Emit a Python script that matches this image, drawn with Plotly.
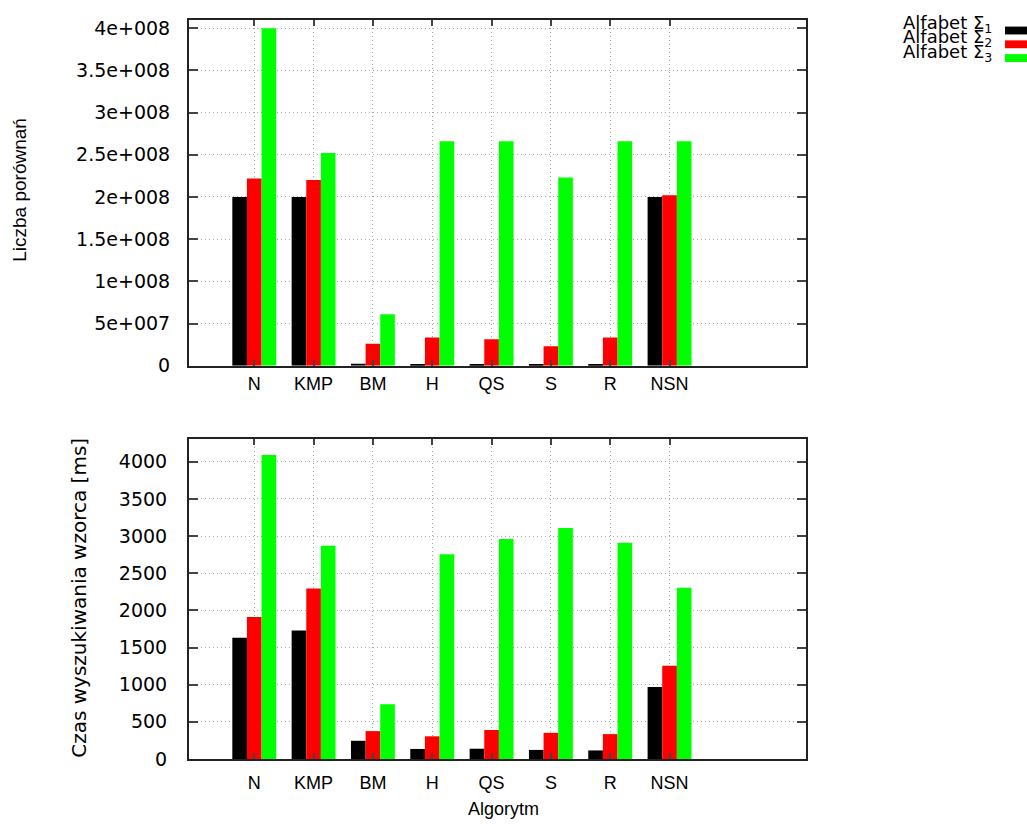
import plotly.graph_objects as go

algorithms = ["N", "KMP", "BM", "H", "QS", "S", "R", "NSN"]
series_names = ["Alfabet Σ<sub>1</sub>", "Alfabet Σ<sub>2</sub>", "Alfabet Σ<sub>3</sub>"]
series_colors = ["#000000", "#ff0000", "#00ff00"]

# Liczba porównań (number of comparisons)
comparisons_s1 = [2.0e8, 2.0e8, 2.5e6, 2.0e6, 2.0e6, 2.0e6, 2.0e6, 2.0e8]
comparisons_s2 = [2.22e8, 2.20e8, 2.6e7, 3.35e7, 3.15e7, 2.3e7, 3.35e7, 2.02e8]
comparisons_s3 = [4.0e8, 2.52e8, 6.1e7, 2.66e8, 2.66e8, 2.23e8, 2.66e8, 2.66e8]

# Czas wyszukiwania wzorca [ms] (search time)
time_s1 = [1630, 1730, 245, 135, 138, 122, 115, 970]
time_s2 = [1910, 2295, 375, 305, 390, 352, 335, 1255]
time_s3 = [4090, 2870, 737, 2755, 2960, 3110, 2910, 2306]

top_tickvals = [0, 5e7, 1e8, 1.5e8, 2e8, 2.5e8, 3e8, 3.5e8, 4e8]
top_ticktext = ["0", "5e+007", "1e+008", "1.5e+008", "2e+008", "2.5e+008", "3e+008", "3.5e+008", "4e+008"]
bottom_tickvals = [0, 500, 1000, 1500, 2000, 2500, 3000, 3500, 4000]

WIDE = "DejaVu Sans, Verdana, sans-serif"
SANS = "Liberation Sans, Arial, Helvetica, sans-serif"
W, H = 1027, 827

fig = go.Figure()
for name, color, vals in zip(series_names, series_colors, [comparisons_s1, comparisons_s2, comparisons_s3]):
    fig.add_trace(go.Bar(x=algorithms, y=vals, name=name, marker=dict(color=color, line=dict(width=0)),
                         xaxis="x", yaxis="y", showlegend=False))
for name, color, vals in zip(series_names, series_colors, [time_s1, time_s2, time_s3]):
    fig.add_trace(go.Bar(x=algorithms, y=vals, name=name, marker=dict(color=color, line=dict(width=0)),
                         xaxis="x2", yaxis="y2", showlegend=False))

# panel boxes in pixels (left, right, top, bottom)
PL, PR = 189, 806
T_TOP, T_BOT = 17, 369
B_TOP, B_BOT = 444, 769

x_dom = [PL / W, PR / W]
top_dom = [1 - T_BOT / H, 1 - T_TOP / H]
bot_dom = [1 - B_BOT / H, 1 - B_TOP / H]

axis_common = dict(
    showline=True, linecolor="#222222", linewidth=2, mirror="ticks",
    ticks="inside", tickcolor="#444444", tickwidth=1.5,
    showgrid=True, gridcolor="#a8a8a8", griddash="1px,3px", gridwidth=1,
    zeroline=False,
)
xfont = dict(family=SANS, size=18, color="#000000")
yfont = dict(family=WIDE, size=19, color="#000000")

fig.update_layout(
    width=W, height=H,
    margin=dict(l=0, r=0, t=0, b=0),
    paper_bgcolor="#ffffff", plot_bgcolor="#ffffff",
    barmode="group", bargap=0.26, bargroupgap=0.0,
    font=dict(family=SANS, size=17, color="#000000"),
    xaxis=dict(axis_common, domain=x_dom, anchor="y", type="category", range=[-1.1, 9.3],
               ticklen=6, tickfont=xfont, ticklabelstandoff=1),
    yaxis=dict(axis_common, domain=top_dom, anchor="x", range=[0, 4.1e8],
               tickvals=top_tickvals, ticktext=top_ticktext, ticklen=9,
               tickfont=yfont, ticklabelstandoff=13),
    xaxis2=dict(axis_common, domain=x_dom, anchor="y2", type="category", range=[-1.1, 9.3],
                ticklen=6, tickfont=xfont, ticklabelstandoff=6),
    yaxis2=dict(axis_common, domain=bot_dom, anchor="x2", range=[0, 4300],
                tickvals=bottom_tickvals, ticktext=[str(v) for v in bottom_tickvals], ticklen=9,
                tickfont=yfont, ticklabelstandoff=16),
)

# axis titles
fig.add_annotation(x=20 / W, y=1 - 190 / H, xref="paper", yref="paper", text="Liczba porównań",
                   textangle=-90, showarrow=False, xanchor="center", yanchor="middle",
                   font=dict(family=SANS, size=19, color="#000000"))
fig.add_annotation(x=79 / W, y=1 - 605 / H, xref="paper", yref="paper", text="Czas wyszukiwania wzorca [ms]",
                   textangle=-90, showarrow=False, xanchor="center", yanchor="middle",
                   font=dict(family=WIDE, size=20, color="#000000"))
fig.add_annotation(x=503 / W, y=1 - 820 / H, xref="paper", yref="paper", text="Algorytm",
                   showarrow=False, xanchor="center", yanchor="middle",
                   font=dict(family=SANS, size=18, color="#000000"))

# Legend (gnuplot style: text on the left, colour sample on the right)
legend_rows_y = [21, 36, 51]
legend_box_y = [28, 42, 56]
for name, color, ypix, bpix in zip(series_names, series_colors, legend_rows_y, legend_box_y):
    fig.add_annotation(x=994 / W, y=1 - ypix / H, xref="paper", yref="paper",
                       text=name, showarrow=False, xanchor="right", yanchor="middle",
                       font=dict(family=WIDE, size=18, color="#000000"))
    fig.add_shape(type="rect", xref="paper", yref="paper",
                  x0=1005 / W, x1=1.0, y0=1 - (bpix + 4) / H, y1=1 - (bpix - 4) / H,
                  fillcolor=color, line=dict(width=0))

fig.write_html("out.html", config={"displayModeBar": False},
               post_script="document.body.style.margin='0';")
